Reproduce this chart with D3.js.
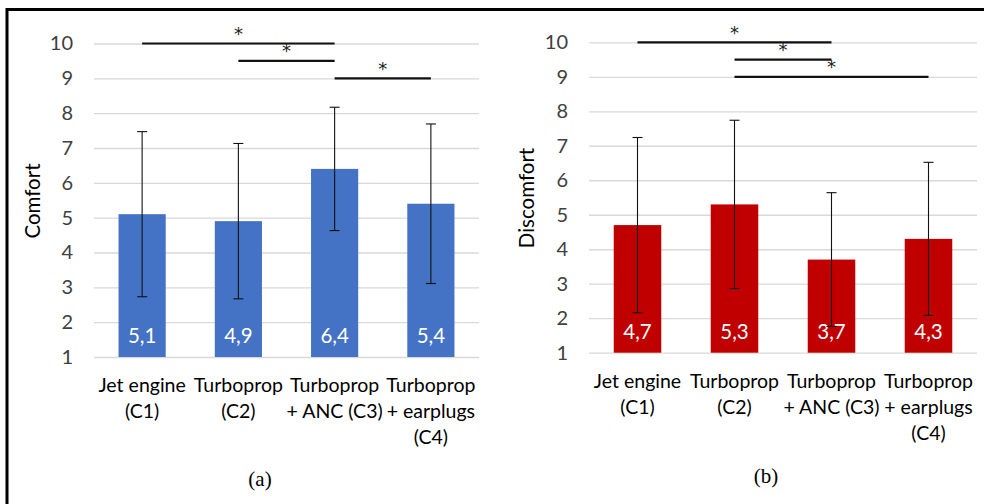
<!DOCTYPE html>
<html>
<head>
<meta charset="utf-8">
<script src="https://cdn.jsdelivr.net/npm/d3@7"></script>
<style>
  body { margin: 0; background: #fff; }
  svg { display: block; }
</style>
</head>
<body>
<div id="chart"></div>
<script>
// ---- data ----
const categories = [
  ["Jet engine", "(C1)"],
  ["Turboprop", "(C2)"],
  ["Turboprop", "+ ANC (C3)"],
  ["Turboprop", "+ earplugs", "(C4)"]
];
const yTicks = [1, 2, 3, 4, 5, 6, 7, 8, 9, 10];

const comfortMean = [5.1, 4.9, 6.4, 5.4];
const comfortSd = [2.37, 2.23, 1.77, 2.29];
const comfortLabels = ["5,1", "4,9", "6,4", "5,4"];
// [from index, to index, level]
const comfortSig = [[0, 2, 10], [1, 2, 9.5], [2, 3, 9]];

const discomfortMean = [4.7, 5.3, 3.7, 4.3];
const discomfortSd = [2.54, 2.44, 1.94, 2.22];
const discomfortLabels = ["4,7", "5,3", "3,7", "4,3"];
const discomfortSig = [[0, 2, 10], [1, 2, 9.5], [1, 3, 9]];

// ---- svg ----
const width = 984, height = 504;
const font = "Lato, 'Open Sans', sans-serif";

const svg = d3.select("#chart")
  .append("svg")
  .attr("width", width)
  .attr("height", height);

// outer frame
svg.append("rect")
  .attr("x", 7).attr("y", 9.5)
  .attr("width", 1000).attr("height", 520)
  .attr("fill", "none")
  .attr("stroke", "#000")
  .attr("stroke-width", 3);

function panel(opt) {
  const x = d3.scaleBand()
    .domain(d3.range(categories.length))
    .range(opt.xr)
    .paddingInner(0.51)
    .paddingOuter(0.255);

  const y = d3.scaleLinear()
    .domain([1, 10])
    .range(opt.yr);

  const g = svg.append("g");

  // gridlines + tick labels
  const ax = g.append("g")
    .attr("transform", `translate(${opt.xr[0]},0)`)
    .call(d3.axisLeft(y)
      .tickValues(yTicks)
      .tickSize(-(opt.xr[1] - opt.xr[0]))
      .tickPadding(21)
      .tickFormat(d3.format("d")));
  ax.select(".domain").remove();
  ax.selectAll("line").attr("stroke", "#d9d9d9").attr("stroke-width", 1.3);
  ax.selectAll("text")
    .attr("fill", "#404040")
    .style("font-family", font)
    .style("font-size", "20px");

  // y title
  g.append("text")
    .attr("transform", `translate(${opt.titleX},${opt.titleY}) rotate(-90)`)
    .attr("text-anchor", "middle")
    .attr("dominant-baseline", "middle")
    .attr("fill", "#000")
    .style("font-family", font)
    .style("font-size", "20.5px")
    .text(opt.title);

  // bars
  g.selectAll(".bar")
    .data(opt.mean)
    .enter()
    .append("rect")
    .attr("x", (d, i) => x(i))
    .attr("y", d => y(d))
    .attr("width", x.bandwidth())
    .attr("height", d => y(1) - y(d))
    .attr("fill", opt.color);

  // value labels
  g.selectAll(".val")
    .data(opt.labels)
    .enter()
    .append("text")
    .attr("x", (d, i) => x(i) + x.bandwidth() / 2)
    .attr("y", y(1) - 14)
    .attr("text-anchor", "middle")
    .attr("fill", "#fff")
    .style("font-family", font)
    .style("font-size", "20.5px")
    .text(d => d);

  // error bars
  const err = g.selectAll(".err")
    .data(opt.mean)
    .enter()
    .append("g")
    .attr("stroke", "#111")
    .attr("stroke-width", 1.1);
  const cx = i => x(i) + x.bandwidth() / 2;
  err.append("line")
    .attr("x1", (d, i) => cx(i)).attr("x2", (d, i) => cx(i))
    .attr("y1", (d, i) => y(d + opt.sd[i]))
    .attr("y2", (d, i) => y(d - opt.sd[i]));
  err.append("line")
    .attr("x1", (d, i) => cx(i) - 5).attr("x2", (d, i) => cx(i) + 5)
    .attr("y1", (d, i) => y(d + opt.sd[i]))
    .attr("y2", (d, i) => y(d + opt.sd[i]));
  err.append("line")
    .attr("x1", (d, i) => cx(i) - 5).attr("x2", (d, i) => cx(i) + 5)
    .attr("y1", (d, i) => y(d - opt.sd[i]))
    .attr("y2", (d, i) => y(d - opt.sd[i]));

  // significance lines
  const sig = g.selectAll(".sig")
    .data(opt.sig)
    .enter()
    .append("g");
  sig.append("line")
    .attr("x1", d => cx(d[0]))
    .attr("x2", d => cx(d[1]))
    .attr("y1", d => y(d[2]))
    .attr("y2", d => y(d[2]))
    .attr("stroke", "#111")
    .attr("stroke-width", 2.2);
  sig.append("text")
    .attr("x", d => (cx(d[0]) + cx(d[1])) / 2)
    .attr("y", d => y(d[2]) - 3.5)
    .attr("text-anchor", "middle")
    .attr("fill", "#222")
    .style("font-family", "'DejaVu Sans', sans-serif")
    .style("font-size", "18px")
    .text("*");

  // category labels
  const cat = g.selectAll(".cat")
    .data(categories)
    .enter()
    .append("text")
    .attr("text-anchor", "middle")
    .attr("fill", "#000")
    .style("font-family", font)
    .style("font-size", "19.5px");
  cat.selectAll("tspan")
    .data((d, i) => d.map(t => ({ t, i })))
    .enter()
    .append("tspan")
    .attr("x", d => cx(d.i))
    .attr("y", (d, j) => y(1) + 35 + j * 26)
    .text(d => d.t);

  // caption
  svg.append("text")
    .attr("x", opt.capX)
    .attr("y", opt.capY)
    .attr("text-anchor", "middle")
    .attr("fill", "#000")
    .style("font-family", "'Liberation Serif', 'DejaVu Serif', serif")
    .style("font-size", "21px")
    .text(opt.caption);
}

panel({
  xr: [94, 479], yr: [357, 43.5],
  mean: comfortMean, sd: comfortSd, labels: comfortLabels, sig: comfortSig,
  color: "#4472c4", title: "Comfort", titleX: 35, titleY: 201,
  caption: "(a)", capX: 260, capY: 486
});

panel({
  xr: [589, 977], yr: [352.7, 42.3],
  mean: discomfortMean, sd: discomfortSd, labels: discomfortLabels, sig: discomfortSig,
  color: "#c00000", title: "Discomfort", titleX: 529, titleY: 198,
  caption: "(b)", capX: 766, capY: 483
});
</script>
</body>
</html>
